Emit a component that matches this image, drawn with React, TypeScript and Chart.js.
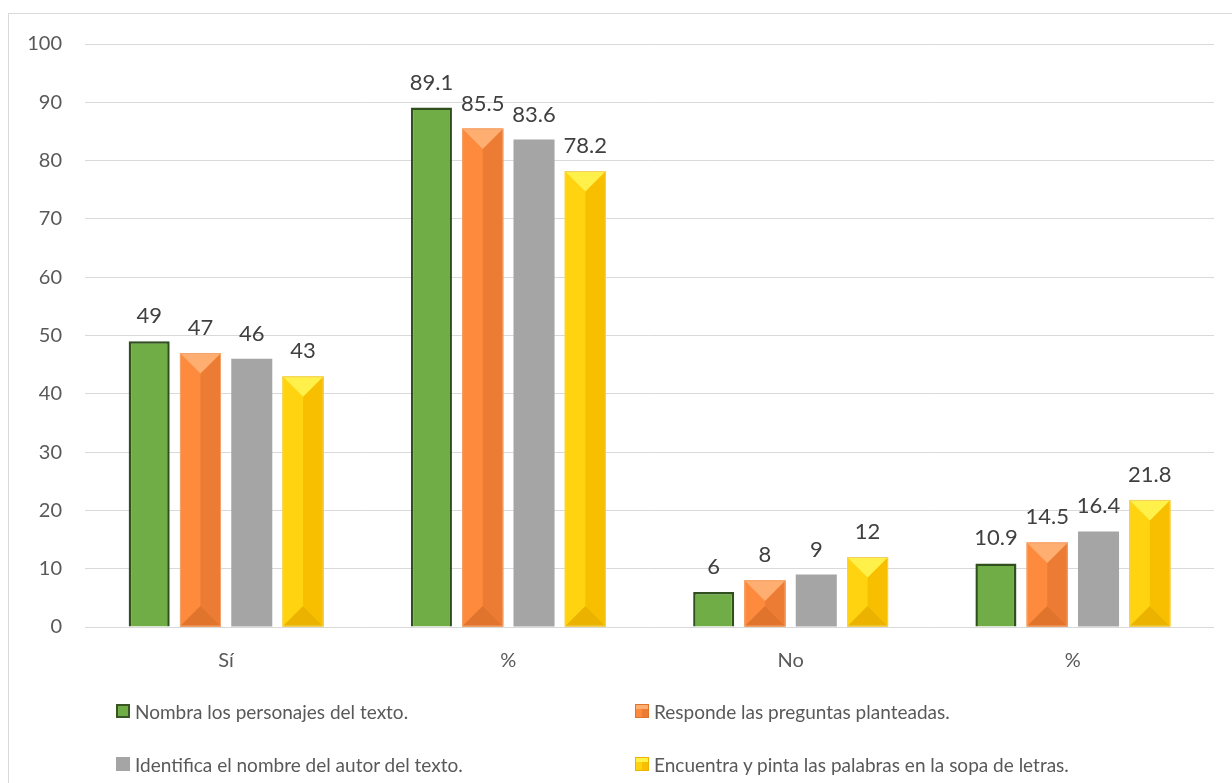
import React, { useEffect, useRef } from "react";
import { Chart, registerables } from "chart.js";

Chart.register(...registerables);

const categories = ["Sí", "%", "No", "%"];
const seriesNames = [
  "Nombra los personajes del texto.",
  "Responde las preguntas planteadas.",
  "Identifica el nombre del autor del texto.",
  "Encuentra y pinta las palabras en la sopa de letras.",
];
const nombra = [49, 89.1, 6, 10.9];
const responde = [47, 85.5, 8, 14.5];
const identifica = [46, 83.6, 9, 16.4];
const encuentra = [43, 78.2, 12, 21.8];
const yMin = 0;
const yMax = 100;
const yStep = 10;

const FONT = "Lato, 'Open Sans', 'Liberation Sans', sans-serif";

const bevelColors: Record<number, { top: string; left: string; right: string; bottom: string; edge: string }> = {
  1: { top: "#ffae72", left: "#fd8a3d", right: "#ec7c33", bottom: "#e0742c", edge: "#f4a36a" },
  3: { top: "#fff04a", left: "#ffd30f", right: "#f7bf00", bottom: "#ebb300", edge: "#f2d060" },
};

const bevelPlugin = {
  id: "bevel",
  afterDatasetDraw(chart: any, args: any) {
    const c = bevelColors[args.index];
    if (!c) return;
    const ctx = chart.ctx;
    const meta = args.meta;
    ctx.save();
    meta.data.forEach((el: any) => {
      const p = el.getProps(["x", "y", "base", "width"], true);
      const left = p.x - p.width / 2;
      const right = p.x + p.width / 2;
      const top = Math.min(p.y, p.base);
      const bottom = Math.max(p.y, p.base);
      const cx = p.x;
      const d = Math.min(p.width / 2, (bottom - top) / 2);
      const poly = (pts: number[][], color: string) => {
        ctx.beginPath();
        ctx.moveTo(pts[0][0], pts[0][1]);
        for (let i = 1; i < pts.length; i++) ctx.lineTo(pts[i][0], pts[i][1]);
        ctx.closePath();
        ctx.fillStyle = color;
        ctx.fill();
      };
      poly([[left, top], [cx, top + d], [cx, bottom - d], [left, bottom]], c.left);
      poly([[right, top], [cx, top + d], [cx, bottom - d], [right, bottom]], c.right);
      poly([[left, top], [right, top], [cx, top + d]], c.top);
      poly([[left, bottom], [right, bottom], [cx, bottom - d]], c.bottom);
      ctx.strokeStyle = c.edge;
      ctx.lineWidth = 1;
      ctx.strokeRect(left + 0.5, top + 0.5, p.width - 1, bottom - top - 1);
    });
    ctx.restore();
  },
};

const labelPlugin = {
  id: "valueLabels",
  afterDatasetsDraw(chart: any) {
    const ctx = chart.ctx;
    ctx.save();
    ctx.font = `22px ${FONT}`;
    ctx.fillStyle = "#404040";
    ctx.textAlign = "center";
    ctx.textBaseline = "alphabetic";
    chart.data.datasets.forEach((ds: any, i: number) => {
      const meta = chart.getDatasetMeta(i);
      meta.data.forEach((el: any, j: number) => {
        const p = el.getProps(["x", "y"], true);
        ctx.fillText(String(ds.data[j]), p.x, p.y - 18);
      });
    });
    ctx.restore();
  },
};

function markerStyle(i: number): React.CSSProperties {
  const base: React.CSSProperties = {
    display: "inline-block",
    width: 14,
    height: 14,
    boxSizing: "border-box",
    marginRight: 5,
    flex: "0 0 auto",
  };
  if (i === 0) return { ...base, background: "#70ad47", border: "2px solid #375623" };
  if (i === 2) return { ...base, background: "#a5a5a5" };
  const c = bevelColors[i];
  return {
    ...base,
    background: `linear-gradient(to bottom, ${c.top} 0%, ${c.top} 30%, transparent 30%), linear-gradient(to right, ${c.left} 50%, ${c.right} 50%)`,
    border: `1px solid ${c.bottom}`,
  };
}

export default function App() {
  const canvasRef = useRef<HTMLCanvasElement | null>(null);

  useEffect(() => {
    const canvas = canvasRef.current;
    if (!canvas) return;
    const chart = new Chart(canvas, {
      type: "bar",
      data: {
        labels: categories,
        datasets: [
          { label: seriesNames[0], data: nombra, backgroundColor: "#70ad47", borderColor: "#2f4f1c", borderWidth: 2.5 },
          { label: seriesNames[1], data: responde, backgroundColor: "#fd8a3d", borderWidth: 0 },
          { label: seriesNames[2], data: identifica, backgroundColor: "#a5a5a5", borderWidth: 0 },
          { label: seriesNames[3], data: encuentra, backgroundColor: "#ffd30f", borderWidth: 0 },
        ],
      },
      options: {
        responsive: false,
        animation: false,
        devicePixelRatio: 1,
        layout: { padding: { top: 10, right: 18, bottom: 106, left: 0 } },
        datasets: { bar: { categoryPercentage: 0.727, barPercentage: 0.8 } } as any,
        plugins: {
          legend: { display: false },
          tooltip: { enabled: false },
          title: { display: false },
        },
        scales: {
          x: {
            grid: { display: false },
            border: { display: false },
            ticks: { color: "#595959", font: { family: FONT, size: 20 }, padding: 14 },
            afterFit: (scale: any) => {
              scale.height = 50;
            },
          },
          y: {
            min: yMin,
            max: yMax,
            grid: { color: "#d9d9d9", lineWidth: 1, drawTicks: false },
            border: { display: false },
            ticks: {
              stepSize: yStep,
              color: "#595959",
              font: { family: FONT, size: 20 },
              padding: 23,
            },
            afterFit: (scale: any) => {
              scale.width = 76;
            },
          },
        },
      },
      plugins: [bevelPlugin, labelPlugin],
    });
    return () => chart.destroy();
  }, []);

  const legendPos = [
    { left: 116, top: 711 },
    { left: 635, top: 711 },
    { left: 116, top: 764 },
    { left: 635, top: 764 },
  ];

  return (
    <div style={{ position: "absolute", left: 0, top: 0, width: 1232, height: 783, overflow: "hidden", background: "#fff" }}>
      <div
        style={{
          position: "absolute",
          left: 8,
          top: 13,
          width: 1224,
          height: 770,
          borderTop: "1px solid #d9d9d9",
          borderLeft: "1px solid #d9d9d9",
          boxSizing: "border-box",
        }}
      />
      <canvas
        ref={canvasRef}
        width={1223}
        height={774}
        style={{ position: "absolute", left: 9, top: 9, width: 1223, height: 774 }}
      />
      {seriesNames.map((name, i) => (
        <div
          key={i}
          style={{
            position: "absolute",
            left: legendPos[i].left,
            top: legendPos[i].top - 14,
            height: 28,
            display: "flex",
            alignItems: "center",
            whiteSpace: "nowrap",
            fontFamily: FONT,
            fontSize: 19,
            color: "#595959",
          }}
        >
          <span style={markerStyle(i)} />
          <span>{name}</span>
        </div>
      ))}
    </div>
  );
}
